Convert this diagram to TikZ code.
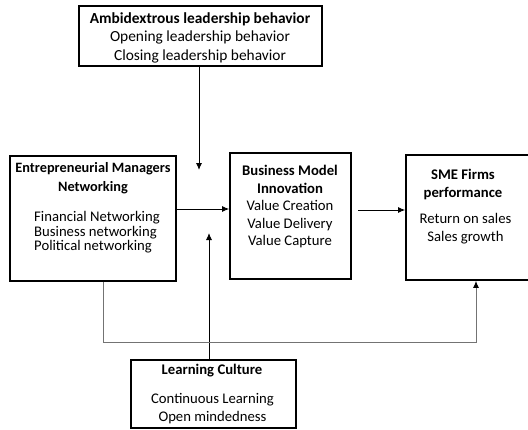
\documentclass[tikz,border=0pt]{standalone}
\usepackage{fontspec}
\setmainfont{Carlito}
\usetikzlibrary{positioning,arrows.meta}
\tikzstyle{box} = [draw, line width=1.7pt, inner sep=0pt]
\tikzstyle{txt} = [inner sep=0pt, align=center, font=\fontsize{14.7}{18}\selectfont]
\tikzstyle{arrow} = [line width=0.9pt,-{Latex[length=7pt,width=6pt]}]
\tikzstyle{feedback} = [line width=1pt, draw=black!55, -{Latex[length=7pt,width=6pt,color=black]}]

\begin{document}
\begin{tikzpicture}[x=1pt,y=-1pt]
    \clip (0,0) rectangle (528,429);

    \node (amb) [box, minimum width=243pt, minimum height=60pt] at (200.5,36) {}; % moderator on top
    \node (ambtxt) [txt, font=\fontsize{15.4}{18.5}\selectfont] at (200,37.5) {\textbf{Ambidextrous leadership behavior}\\Opening leadership behavior\\Closing leadership behavior};

    \node (emn) [box, minimum width=166pt, minimum height=125pt] at (93,218.5) {};
    \node (emnhead) [txt, font=\fontsize{14.3}{19}\selectfont\bfseries] at (93,178.5) {Entrepreneurial Managers\\Networking};
    \node (emnlist) [txt, align=left, anchor=west, font=\fontsize{14.7}{14.5}\selectfont] at (34,232.5) {Financial Networking\\Business networking\\Political networking};

    \node (bmi) [box, minimum width=121pt, minimum height=126pt] at (290.5,216) {};
    \node (bmitxt) [txt, font=\fontsize{14.7}{17.5}\selectfont] at (290,207) {\textbf{Business Model}\\\textbf{Innovation}\\Value Creation\\Value Delivery\\Value Capture};

    \node (sme) [box, minimum width=130pt, minimum height=125pt] at (471,217.5) {}; % runs off the right edge
    \node (smehead) [txt, font=\fontsize{14.7}{18}\selectfont\bfseries] at (463,184) {SME Firms\\performance};
    \node (smelist) [txt] at (465.5,229) {Return on sales\\Sales growth};

    \node (lc) [box, minimum width=165pt, minimum height=68pt] at (213.5,394) {}; % second moderator below
    \node (lchead) [txt, font=\fontsize{14.7}{18}\selectfont\bfseries] at (212,371) {Learning Culture};
    \node (lclist) [txt] at (212.5,409) {Continuous Learning\\Open mindedness};

    \coordinate (ambend) at (199,170);
    \coordinate (lcend) at (209,233);
    \coordinate (fb) at (476,342);

    \draw [arrow] (amb.south -| ambend) -- (ambend);
    \draw [arrow] ([yshift=9.5pt]emn.east) -- ([yshift=7pt]bmi.west);
    \draw [arrow] ([xshift=6pt,yshift=6pt]bmi.east) -- ([yshift=7.5pt]sme.west);
    \draw [arrow] (lc.north -| lcend) -- (lcend);
    \draw [feedback] ([xshift=10pt]emn.south) |- (fb) -- (fb |- sme.south); % direct path to performance
\end{tikzpicture}
\end{document}
